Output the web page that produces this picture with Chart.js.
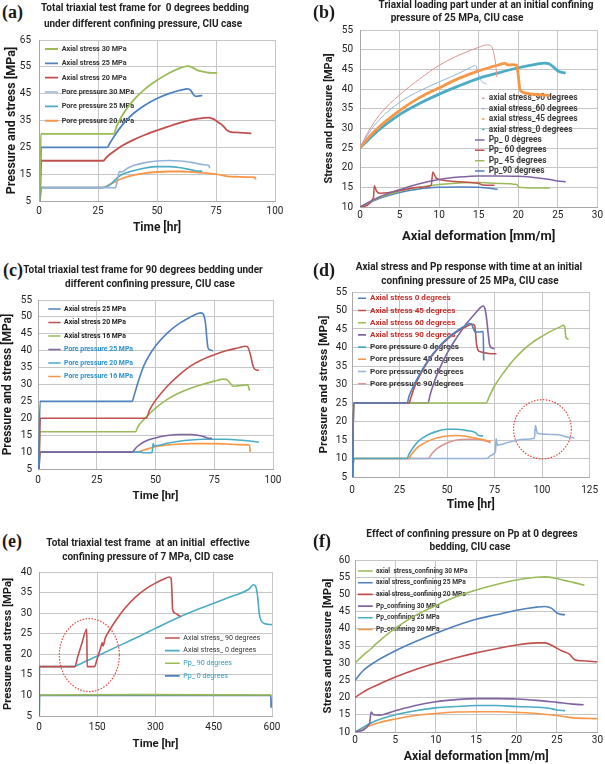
<!DOCTYPE html>
<html>
<head>
<meta charset="utf-8">
<script src="https://cdn.jsdelivr.net/npm/chart.js@4.4.0/dist/chart.umd.min.js"></script>
<style>
 body{margin:0;width:605px;height:764px;background:#fff;position:relative;overflow:hidden;font-family:Roboto,sans-serif;}
 canvas{position:absolute;}
 .letra{position:absolute;font:bold 18px "Liberation Serif",serif;color:#1a1a1a;line-height:18px;z-index:2;}
 .titulo{position:absolute;width:300px;text-align:center;font:bold 10px Roboto,sans-serif;color:#222;line-height:12px;white-space:pre;z-index:2;}
</style>
</head>
<body>
<div class="letra" style="left:2px;top:3px">(a)</div>
<div class="titulo" style="left:-5px;top:2px">Total triaxial test frame for  0 degrees bedding</div>
<div class="titulo" style="left:-7px;top:18px">under different confining pressure, CIU case</div>
<div class="letra" style="left:313px;top:3px">(b)</div>
<div class="titulo" style="left:336px;top:-1px">Triaxial loading part under at an initial confining</div>
<div class="titulo" style="left:307px;top:12px">pressure of 25 MPa, CIU case</div>
<div class="letra" style="left:3px;top:261px">(c)</div>
<div class="titulo" style="left:-7px;top:264px">Total triaxial test frame for 90 degrees bedding under</div>
<div class="titulo" style="left:0px;top:278px">different confining pressure, CIU case</div>
<div class="letra" style="left:313px;top:261px">(d)</div>
<div class="titulo" style="left:319px;top:261px">Axial stress and Pp response with time at an initial</div>
<div class="titulo" style="left:320px;top:275px">confining pressure of 25 MPa, CIU case</div>
<div class="letra" style="left:2px;top:532px">(e)</div>
<div class="titulo" style="left:-2px;top:537px">Total triaxial test frame  at an initial  effective</div>
<div class="titulo" style="left:-2px;top:551px">confining pressure of 7 MPa, CID case</div>
<div class="letra" style="left:313px;top:532px">(f)</div>
<div class="titulo" style="left:322px;top:528px">Effect of confining pressure on Pp at 0 degrees</div>
<div class="titulo" style="left:320px;top:541px">bedding, CIU case</div>

<canvas id="canvasA" width="300" height="212" style="left:0px;top:26px"></canvas>
<canvas id="canvasB" width="305" height="232" style="left:300px;top:17px"></canvas>
<canvas id="canvasC" width="300" height="218" style="left:0px;top:288px"></canvas>
<canvas id="canvasD" width="305" height="232" style="left:300px;top:281px"></canvas>
<canvas id="canvasE" width="300" height="197" style="left:0px;top:559px"></canvas>
<canvas id="canvasF" width="305" height="215" style="left:300px;top:549px"></canvas>

<script>
//Datos del panel (a): tiempo [hr], presion [MPa]
const aEtiquetas = ['Axial stress 30 MPa','Axial stress 25 MPa','Axial stress 20 MPa','Pore pressure 30 MPa','Pore pressure 25 MPa','Pore pressure 20 MPa'];
const aAxial30 = [[0.3,5],[0.8,30],[31.5,30],[33,33],[35,36.5],[37.5,39.8],[40,42.5],[42.5,44.8],[45,46.8],[47.5,48.5],[50,50],[55,52.6],[60,54.6],[63,55.3],[65,54.8],[67,53.8],[69.5,53.2],[72,52.8],[75.5,52.7]];
const aAxial25 = [[0.4,5],[0.9,25],[28.9,25],[30,26.5],[32.5,30],[35,33],[37.5,35.5],[40,37.6],[42.5,39.3],[45,40.8],[50,43.2],[55,45],[60,46.3],[63,46.8],[64.3,46.2],[65.5,44.6],[66.5,44],[68,44.2],[69.2,44.3]];
const aAxial20 = [[0.4,5],[0.9,20],[27.2,20],[28.5,21.2],[30,22.4],[32.5,24],[35,25.5],[40,27.8],[45,29.7],[50,31.3],[55,32.8],[60,34.2],[65,35.3],[70,36],[72,36.1],[74,35.5],[76,34.3],[78,33],[79.5,31.5],[81,30.8],[85,30.5],[90,30.2]];
const aPore30 = [[0.4,5],[0.9,10],[30,10],[32.3,9.9],[33.3,13],[34,16],[35,15.8],[37.5,17.2],[40,18.2],[45,19.3],[50,19.9],[55,20.1],[60,19.9],[65,19.3],[70,18.5],[72,18.2],[72.3,17.2]];
const aPore25 = [[0.4,5],[0.9,10],[27,10],[30,11],[33,13.5],[35,14.8],[40,16.3],[45,17.3],[50,17.8],[55,17.8],[60,17.4],[65,16.5],[67,16.2],[69.2,16.1]];
const aPore20 = [[0.4,5],[0.9,10],[27,10],[30,11.2],[35,13.3],[40,14.6],[45,15.4],[50,15.8],[55,16],[60,16],[65,15.8],[70,15.5],[75,15],[80,14.2],[85,14],[90,13.9],[91.5,13.8],[91.8,13]];
const aEjeX = [0, 100, 25];
const aEjeY = [5, 65, 10];

//Datos del panel (b): deformacion axial [mm/m]
const bEtiquetas = ['axial stress_90 degrees','axial stress_60 degrees','axial stress_45 degrees','axial stress_0 degrees','Pp_ 0 degrees','Pp_ 60 degrees','Pp_ 45 degrees','Pp_90 degrees'];
const bAxial90 = [[0,25],[1,29],[2.5,33.5],[5,38.5],[7.5,42.5],[10,46],[12.5,48.6],[15,50.6],[16,51.2],[16.5,51],[16.8,50],[17.1,47],[17.3,43]];
const bAxial60 = [[0,25],[1,28.5],[2.5,32.3],[5,36.6],[7.5,39.5],[10,41.8],[12.5,44],[14,45.5],[14.6,46],[14.8,45],[15.2,42.5],[16,41.2]];
const bAxial45 = [[0,25],[1,27.5],[2.5,30.5],[5,34.5],[7.5,37.8],[10,40.3],[12.5,42.7],[15,44.6],[17.5,46.1],[18.3,46.5],[18.7,46.1],[19.2,46.2],[19.8,46.1],[20,43.5],[20.2,40],[20.8,39],[22,38.6],[24,38.4]];
const bAxial0 = [[0,25],[1,27],[2.5,29.8],[5,33.5],[7.5,36.3],[10,38.7],[12.5,40.8],[15,42.7],[17.5,44.1],[20,45.4],[22.5,46.4],[23.3,46.6],[24,46.3],[24.5,45.5],[25,44.6],[25.5,44.2],[26,44.1]];
const bPp0 = [[0,10],[2.5,12.6],[5,14.4],[7.5,15.9],[10,17],[12.5,17.6],[15,17.9],[17.5,17.9],[20,17.8],[22.5,17.4],[24,17],[25,16.6],[26,16.4]];
const bPp60 = [[0,10],[1.7,12.3],[1.8,15.4],[2.1,14],[2.5,13.5],[3.5,13.6],[5,14.2],[7.5,15],[9,15.5],[9.2,18.9],[9.6,17.4],[10.5,16.8],[12,16.5],[14,16.2],[15,16],[15.5,15.6],[17,15.5]];
const bPp45 = [[0,10],[2.5,12.4],[5,14],[7.5,15],[10,15.7],[12.5,16.1],[15,16.2],[17.5,16],[19.8,15.7],[20.1,15],[22,14.8],[24,14.8]];
const bPp90 = [[0,10],[2.5,12.2],[5,13.7],[7.5,14.6],[10,15],[12.5,15.1],[15,15],[17,14.6],[17.4,14.5]];
const bEjeX = [0, 30, 5];
const bEjeY = [10, 55, 5];

//Datos del panel (c)
const cEtiquetas = ['Axial stress 25 MPa','Axial stress 20 MPa','Axial stress 16 MPa','Pore pressure 25 MPa','Pore pressure 20 MPa','Pore pressure 16 MPa'];
const cAxial25 = [[0.3,5],[0.9,25],[40,25],[41,27],[42.5,30.5],[45,35.5],[47.5,38.8],[50,41.4],[55,45.2],[60,48],[65,50],[68,51],[69.5,51.2],[70.5,50.6],[71.3,48],[71.8,44],[72.3,41],[73,40.3],[74.5,40]];
const cAxial20 = [[0.4,5],[1,20],[46,20],[47.5,22.5],[50,25.3],[55,29.5],[60,32.8],[65,35.5],[70,37.4],[75,38.8],[80,40],[85,40.8],[88.5,41.3],[89.5,40.8],[90.5,38.5],[91.5,35.5],[92.5,34.4],[94,34.2]];
const cAxial16 = [[0.4,5],[0.9,16],[41.5,16],[42.5,17.5],[45,19.6],[50,23],[55,25.6],[60,27.5],[65,28.9],[70,30],[75,31],[79,31.6],[80.5,31.4],[82,30.2],[83,29.5],[85,29.6],[89,29.9],[89.5,29.6],[90,28.2]];
const cPore25 = [[0.4,5],[0.9,10],[40,10],[42,11.5],[45,13],[50,14.2],[55,14.9],[60,15.2],[65,15.2],[68,15],[70,14.7],[72,14.2],[74,14]];
const cPore20 = [[0.4,5],[0.9,10],[44,10],[45,9.8],[48.5,9.8],[49,12.5],[49.5,11.8],[52,12.1],[55,12.6],[60,13.2],[65,13.6],[70,13.8],[75,13.8],[80,13.8],[85,13.6],[90,13.3],[94,12.9]];
const cPore16 = [[0.4,5],[0.9,10],[42,10],[45,10.6],[50,11.6],[55,12.1],[60,12.4],[65,12.5],[70,12.5],[75,12.5],[80,12.4],[85,12.2],[90,12.1],[90.3,10]];
const cEjeX = [0, 100, 25];
const cEjeY = [5, 55, 5];

//Datos del panel (d)
const dEtiquetas = ['Axial stress 0 degrees','Axial stress 45 degrees','Axial stress 60 degrees','Axial stress 90 degrees','Pore pressure 0 degrees','Pore pressure 45 degrees','Pore pressure 60 degrees','Pore pressure 90 degrees'];
const dAxial0 = [[0.3,5],[0.9,25],[29,25],[30,26.8],[32.5,29.7],[35,32.2],[40,36.5],[45,39.8],[50,42.4],[55,44.4],[60,46],[62,46.5],[63,46.2],[64,45],[64.8,44.2],[67,44.2],[69,44.3],[69.3,36.5]];
const dAxial45 = [[0.3,5],[0.9,25],[30,25],[31,26.5],[33,29.5],[35,31.8],[40,36.3],[45,39.6],[50,42.2],[55,44.2],[60,45.6],[63,46.3],[64.5,46],[65,44],[65.5,41],[66.3,39.3],[68,38.8],[72,38.4],[76,38.3]];
const dAxial60 = [[0.3,5],[0.9,25],[70.7,25],[72,26.5],[75,29.6],[80,33.4],[85,36.6],[90,39.3],[95,41.4],[100,43],[105,44.5],[110,45.7],[111,46],[112,45.5],[112.5,42.8],[114,42.2]];
const dAxial90 = [[0.3,5],[0.9,25],[40,25],[41,27],[42.5,29.5],[45,33],[50,38.4],[55,42.6],[60,46.3],[65,49.3],[68,51],[69,51.2],[70,50.4],[71,47],[71.8,43],[72.5,40.5],[74,39.8],[75,39.7]];
const dPore0 = [[0.3,5],[0.9,10],[29,10],[30,11.2],[32.5,13.2],[35,14.7],[40,16.4],[45,17.4],[50,17.9],[55,17.9],[60,17.6],[65,17],[66.5,16.2],[69,16.1]];
const dPore45 = [[0.3,5],[0.9,10],[30,10],[31,10.9],[33,12.2],[35,13.2],[40,14.7],[45,15.6],[50,16.1],[55,16.2],[60,16],[65,15.5],[70,15],[72,14.7],[73,14.8]];
const dPore60 = [[0.3,5],[0.9,10],[71,10],[73,10.8],[75.5,12],[75.8,15.3],[76.5,13.6],[78,13.7],[82,14.3],[86,14.8],[90,15.2],[96,15.5],[96.5,18.9],[97.5,16.9],[100,16.6],[105,16.5],[110,16.3],[112.5,15.9],[117,15.6]];
const dPore90 = [[0.3,5],[0.9,10],[40,10],[42,11.3],[45,12.8],[50,14.2],[55,15],[60,15.2],[65,15.2],[70,14.8],[73,14.3]];
const dEjeX = [0, 125, 25];
const dEjeY = [5, 55, 5];
const dElipse = [100.2, 17.9, 15.2, 8.0];

//Datos del panel (e)
const eEtiquetas = ['Axial stress_ 90 degrees','Axial stress_ 0 degrees','Pp_ 90 degrees','Pp_ 0 degrees'];
const eAxial90 = [[0.5,5],[1,17],[92,17],[100,19.5],[110,22.5],[123,26.1],[124,17],[143,17],[150,19],[158,21.3],[163,22.8],[165,22],[170,23.8],[180,25.6],[200,28.5],[225,31.6],[250,34],[275,35.9],[300,37.3],[320,38.2],[335,38.8],[340,38.5],[342,36],[344,31],[350,30],[364,29.2]];
const eAxial0 = [[0.5,5],[1,17],[92,17],[100,17.4],[150,19.6],[200,21.8],[250,24],[300,26.3],[350,28.6],[400,30.6],[450,32.4],[500,34.2],[540,35.8],[552,36.9],[558,36.5],[563,34],[567,30],[572,28.2],[580,27.5],[600,27.2]];
const ePp90 = [[0.5,5],[1,10.1],[250,10.2],[598,10.1]];
const ePp0 = [[0.5,5],[1,10],[300,10],[597,10],[598,7]];
const eEjeX = [0, 600, 150];
const eEjeY = [5, 40, 5];
const eElipse = [129.6, 19.8, 77.3, 8.86];

//Datos del panel (f)
const fEtiquetas = ['axial  stress_confining 30 MPa','axial stress_confining 25 MPa','axial stress_confining 20 MPa','Pp_confining 30 MPa','Pp_confining 25 MPa','Pp_confining 20 MPa'];
const fAxial30 = [[0,30],[1,32.3],[2,34.2],[2.5,35.4],[5,40.2],[7.5,43.9],[10,46.8],[12.5,49.3],[15,51.3],[17.5,52.9],[20,54.2],[22.5,55],[23.5,55.1],[25,54.6],[26,54],[27,53.5],[28,52.9],[28.4,52.7]];
const fAxial25 = [[0,25],[1,27.8],[2.5,30.4],[5,33.6],[7.5,36.3],[10,38.7],[12.5,40.9],[15,42.8],[17.5,44.1],[20,45.4],[22.5,46.3],[23.5,46.5],[24.3,46],[25,44.6],[25.5,44.2],[26,44.1]];
const fAxial20 = [[0,20],[1,21.6],[2.5,23.4],[5,26],[7.5,28.2],[10,30],[12.5,31.6],[15,33],[17.5,34.2],[20,35.3],[22.5,35.9],[23.5,35.9],[24.5,35],[25.5,33.7],[26.5,32.7],[27.2,31],[28,30.7],[30,30.4]];
const fPp30 = [[0,10],[1.8,12.5],[2,15.8],[2.3,15],[3,14.9],[5,16.2],[7.5,17.7],[10,18.8],[12.5,19.4],[15,19.7],[17.5,19.7],[20,19.6],[22.5,19.2],[25,18.6],[27,18.1],[28.3,17.9]];
const fPp25 = [[0,10],[2.5,13.2],[5,15],[7.5,16.2],[10,17],[12.5,17.4],[15,17.7],[17.5,17.7],[20,17.4],[22.5,17.2],[24,16.9],[25,16.4],[26,16.2]];
const fPp20 = [[0,10],[2.5,12.4],[5,13.8],[7.5,14.8],[10,15.4],[12.5,15.8],[15,15.9],[17.5,15.9],[20,15.7],[22.5,15.4],[25,14.8],[27,14.1],[30,13.9]];
const fEjeX = [0, 30, 5];
const fEjeY = [10, 60, 5];

//Paleta de colores (Excel)
const AZUL = '#4F81BD', ROJO = '#C0504D', VERDE = '#9BBB59', MORADO = '#8064A2',
      TURQUESA = '#4BACC6', NARANJA = '#F79646', CELESTE = '#95B3D7', ROSA = '#DA9694';

//Calcula el tamaño de fuente para que un texto ocupe cierto ancho
function tamanoFuente(texto, ancho, peso) {
 const c = document.createElement('canvas').getContext('2d');
 c.font = peso + ' 10px Roboto';
 return 10 * ancho / c.measureText(texto).width;
}

//Plugin que mueve la leyenda dentro del area del grafico
const pluginLeyenda = {
 id: 'posLeyenda',
 afterLayout(chart, args, opts) {
  const ley = chart.legend;
  const ca = chart.chartArea;
  if (!ley || opts.x === undefined) return;
  ley.left = ca.left + opts.x;
  ley.top = ca.top + opts.y;
  ley.right = ca.right;
  ley.bottom = ca.bottom;
 }
};

//Plugin que dibuja el circulo punteado en unidades de los ejes
const pluginElipse = {
 id: 'elipse',
 afterDatasetsDraw(chart, args, opts) {
  const e = opts.valores;
  if (!e) return;
  const sx = chart.scales.x, sy = chart.scales.y, ctx = chart.ctx;
  const cx = sx.getPixelForValue(e[0]), cy = sy.getPixelForValue(e[1]);
  const rx = Math.abs(sx.getPixelForValue(e[0] + e[2]) - cx);
  const ry = Math.abs(sy.getPixelForValue(e[1] + e[3]) - cy);
  ctx.save();
  ctx.setLineDash([1.5, 1.5]);
  ctx.strokeStyle = '#E8453C';
  ctx.lineWidth = 1.2;
  ctx.beginPath();
  ctx.ellipse(cx, cy, rx, ry, 0, 0, 2 * Math.PI);
  ctx.stroke();
  ctx.restore();
 }
};

//Funcion para renderizar cada panel
function crearPanel(idCanvas, conf) {
 const canvas = document.getElementById(idCanvas);
 const peso = conf.ley.bold ? 'bold' : 'normal';
 //Fuente y espaciado de la leyenda
 const fuente = tamanoFuente(conf.etiquetas[conf.ley.ref], conf.ley.ancho, peso);
 const pad = conf.ley.esp - fuente;
 let datasets = [];
  for (let i = 0; i < conf.series.length; i++) {
   datasets.push({
    label: conf.etiquetas[i],
    data: conf.series[i].map(p => ({x: p[0], y: p[1]})),
    borderColor: conf.colores[i],
    backgroundColor: conf.colores[i],
    borderWidth: conf.grosores ? conf.grosores[i] : 1.6,
    colorTexto: conf.textos ? conf.textos[i] : '#333',
    guion: conf.guiones ? conf.guiones[i] : null,
    pointRadius: 0,
    pointHoverRadius: 0,
    cubicInterpolationMode: 'monotone',
    fill: false
   });
  }
 const grid = {color: '#C6C6C6', lineWidth: 1, drawTicks: false};
 return new Chart(canvas, {
  type: 'line',
  data: {datasets: datasets},
  plugins: [pluginLeyenda, pluginElipse],
  options: {
   responsive: false,
   animation: false,
   events: [],
   devicePixelRatio: 1,
   layout: {padding: {top: conf.pad[0], right: conf.pad[1], bottom: 0, left: 0}},
   scales: {
    x: {
     type: 'linear', min: conf.ejeX[0], max: conf.ejeX[1],
     ticks: {stepSize: conf.ejeX[2], color: '#222', font: {family: 'Roboto', size: 10}, padding: conf.tickPad[0], maxRotation: 0},
     grid: grid,
     border: {color: '#A8A8A8'},
     title: {display: true, text: conf.tituloX, color: '#1a1a1a', font: {family: 'Roboto', size: conf.fuenteX, weight: 'bold'}, padding: {top: 0, bottom: conf.titPad[0]}},
     afterFit: s => { s.height = conf.caja[1]; }
    },
    y: {
     type: 'linear', min: conf.ejeY[0], max: conf.ejeY[1],
     ticks: {stepSize: conf.ejeY[2], color: '#222', font: {family: 'Roboto', size: 10}, padding: conf.tickPad[1]},
     grid: grid,
     border: {color: '#A8A8A8'},
     title: {display: true, text: conf.tituloY, color: '#1a1a1a', font: {family: 'Roboto', size: conf.fuenteY, weight: 'bold'}, padding: {top: conf.titPad[1], bottom: 0}},
     afterFit: s => { s.width = conf.caja[0]; }
    }
   },
   plugins: {
    title: {display: false},
    tooltip: {enabled: false},
    legend: {
     display: true,
     position: 'chartArea',
     align: 'start',
     labels: {
      usePointStyle: true,
      pointStyle: 'line',
      pointStyleWidth: conf.ley.largo,
      padding: pad,
      textAlign: 'left',
      font: {family: 'Roboto', size: fuente, weight: peso},
      generateLabels: function(chart) {
       const items = Chart.defaults.plugins.legend.labels.generateLabels(chart);
       items.forEach(function(it, i) {
        const ds = chart.data.datasets[i];
        it.fontColor = ds.colorTexto;
        it.lineWidth = Math.min(ds.borderWidth, 2);
        if (ds.guion) { it.lineDash = ds.guion; it.lineWidth = 1.5; }
       });
       return items;
      }
     }
    },
    //Posicion de la primera marca respecto del area del grafico
    posLeyenda: {x: conf.ley.mx - pad, y: conf.ley.cy - fuente / 2 - pad},
    elipse: {valores: conf.elipse}
   }
  }
 });
}

//Panel (a)
crearPanel('canvasA', {
 etiquetas: aEtiquetas,
 series: [aAxial30, aAxial25, aAxial20, aPore30, aPore25, aPore20],
 colores: [VERDE, AZUL, ROJO, CELESTE, TURQUESA, NARANJA],
 grosores: [1.8, 1.8, 1.8, 1.6, 1.6, 1.8],
 ejeX: aEjeX, ejeY: aEjeY,
 tituloX: 'Time [hr]', tituloY: 'Pressure and stress [MPa]',
 fuenteX: 12, fuenteY: 12.5, titPad: [2.8, 4.5], tickPad: [4, 8],
 caja: [39, 37], pad: [10, 25],
 ley: {mx: 6, cy: 9, esp: 14.35, ref: 0, ancho: 65, largo: 13, bold: true}
});

//Panel (b)
const GRIS = '#3C3C3C';
crearPanel('canvasB', {
 etiquetas: bEtiquetas,
 series: [bAxial90, bAxial60, bAxial45, bAxial0, bPp0, bPp60, bPp45, bPp90],
 colores: [ROSA, CELESTE, NARANJA, TURQUESA, MORADO, ROJO, VERDE, AZUL],
 grosores: [1, 1, 2.8, 2.8, 1.5, 1.5, 1.5, 1.5],
 guiones: [[0, 7, 2.5, 20], [0, 7, 2.5, 20], [0, 7, 2.5, 20], [0, 7, 2.5, 20], null, null, null, null],
 textos: [GRIS, GRIS, GRIS, GRIS, GRIS, GRIS, GRIS, GRIS],
 ejeX: bEjeX, ejeY: bEjeY,
 tituloX: 'Axial deformation [mm/m]', tituloY: 'Stress and pressure [MPa]',
 fuenteX: 13, fuenteY: 11, titPad: [4.2, 22.4], tickPad: [2, 7],
 caja: [60, 42], pad: [10, 7],
 ley: {mx: 115, cy: 68.3, esp: 10.4, ref: 0, ancho: 89, largo: 9.5, bold: true}
});

//Panel (c)
const AZULTXT = '#2E92CE';
crearPanel('canvasC', {
 etiquetas: cEtiquetas,
 series: [cAxial25, cAxial20, cAxial16, cPore25, cPore20, cPore16],
 colores: [AZUL, ROJO, VERDE, MORADO, TURQUESA, NARANJA],
 textos: ['#222', '#222', '#222', AZULTXT, AZULTXT, AZULTXT],
 ejeX: cEjeX, ejeY: cEjeY,
 tituloX: 'Time [hr]', tituloY: 'Pressure and stress [MPa]',
 fuenteX: 11.4, fuenteY: 12, titPad: [3.2, 0.8], tickPad: [5, 6],
 caja: [38, 37], pad: [10, 27],
 ley: {mx: 10.3, cy: 9, esp: 13.5, ref: 0, ancho: 62, largo: 12.3, bold: true}
});

//Panel (d)
const ROJOTXT = '#C8302C';
crearPanel('canvasD', {
 etiquetas: dEtiquetas,
 series: [dAxial0, dAxial45, dAxial60, dAxial90, dPore0, dPore45, dPore60, dPore90],
 colores: [AZUL, ROJO, VERDE, MORADO, TURQUESA, NARANJA, CELESTE, ROSA],
 textos: [ROJOTXT, ROJOTXT, ROJOTXT, ROJOTXT, '#333', '#333', '#333', '#333'],
 ejeX: dEjeX, ejeY: dEjeY,
 tituloX: 'Time [hr]', tituloY: 'Pressure and stress [MPa]',
 fuenteX: 12, fuenteY: 11.7, titPad: [0.8, 17], tickPad: [7, 5],
 caja: [52, 36], pad: [10, 6],
 ley: {mx: 6, cy: 6.3, esp: 12.2, ref: 7, ancho: 93.7, largo: 8, bold: true},
 elipse: dElipse
});

//Panel (e)
const TURQTXT = '#2F9FC2';
crearPanel('canvasE', {
 etiquetas: eEtiquetas,
 series: [eAxial90, eAxial0, ePp90, ePp0],
 colores: [ROJO, TURQUESA, VERDE, AZUL],
 grosores: [1.6, 1.6, 1.6, 1.8],
 textos: ['#333', '#333', TURQTXT, TURQTXT],
 ejeX: eEjeX, ejeY: eEjeY,
 tituloX: 'Time [hr]', tituloY: 'Pressure and stress [MPa]',
 fuenteX: 11.4, fuenteY: 11.2, titPad: [5.2, 1.3], tickPad: [5, 7],
 caja: [39, 40], pad: [10, 28],
 ley: {mx: 126, cy: 66, esp: 12.6, ref: 0, ancho: 77, largo: 14.7, bold: false},
 elipse: eElipse
});

//Panel (f)
crearPanel('canvasF', {
 etiquetas: fEtiquetas,
 series: [fAxial30, fAxial25, fAxial20, fPp30, fPp25, fPp20],
 colores: [VERDE, AZUL, ROJO, MORADO, TURQUESA, NARANJA],
 ejeX: fEjeX, ejeY: fEjeY,
 tituloX: 'Axial deformation [mm/m]', tituloY: 'Stress and pressure [MPa]',
 fuenteX: 12.3, fuenteY: 11.4, titPad: [0, 21], tickPad: [2, 5],
 caja: [55, 32], pad: [10, 7],
 ley: {mx: 3, cy: 11, esp: 11.7, ref: 1, ancho: 90, largo: 14.7, bold: true}
});
</script>
</body>
</html>
